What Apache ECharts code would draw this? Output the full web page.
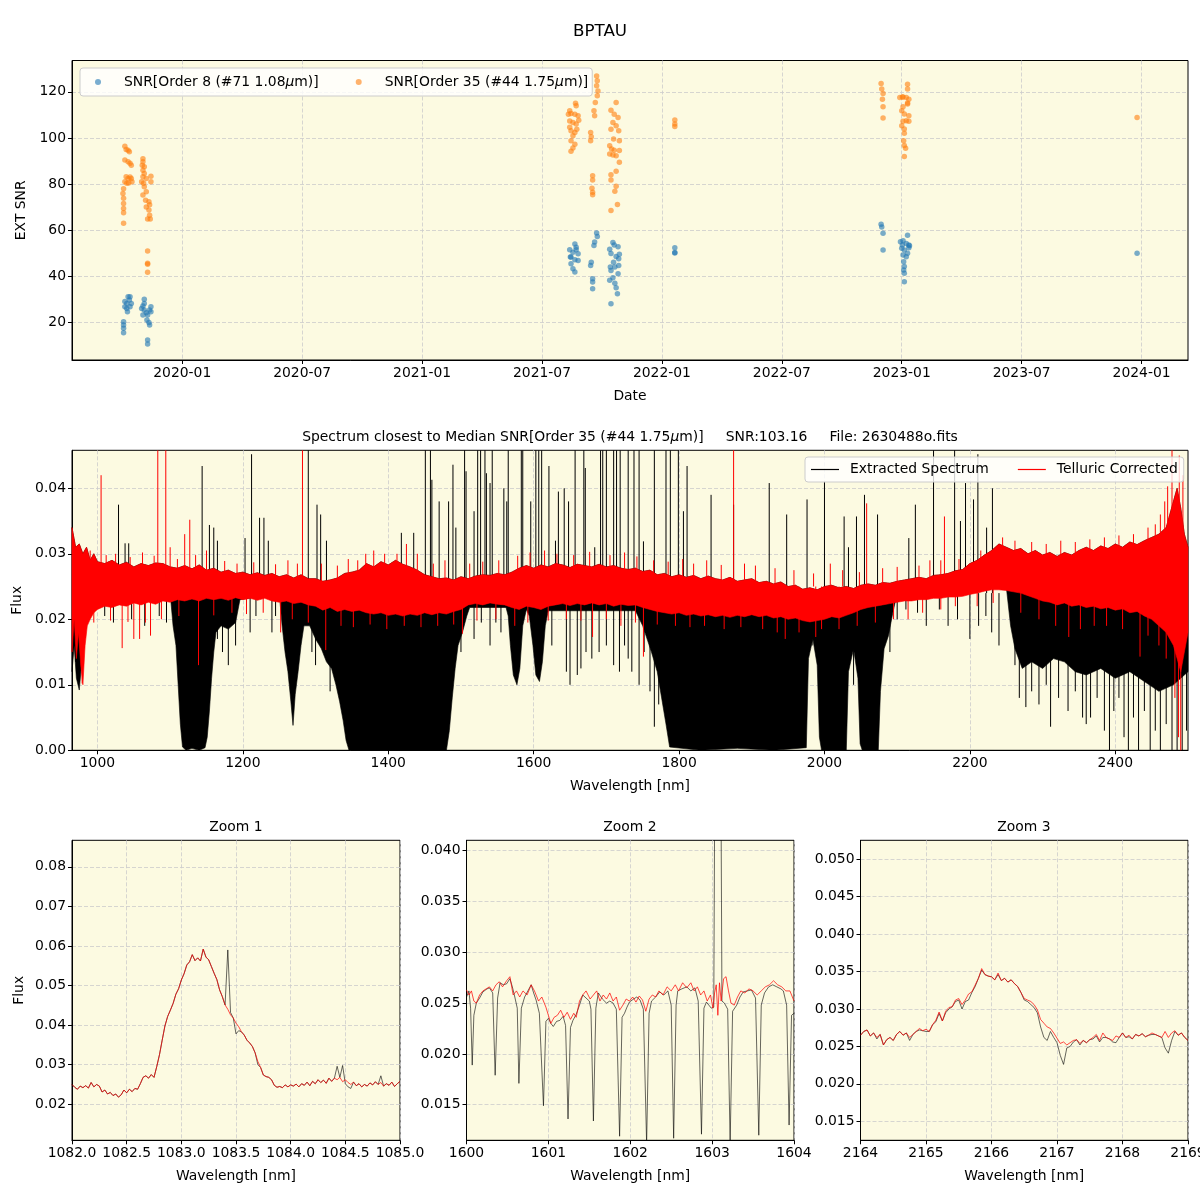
<!DOCTYPE html>
<html><head><meta charset="utf-8">
<script src="https://cdn.jsdelivr.net/npm/echarts@6/dist/echarts.min.js"></script>
<style>html,body{margin:0;padding:0;background:#fff}#c{width:1200px;height:1200px}</style>
</head><body><div id="c"></div>
<script>
// ---------------- DATA ----------------
const S8 = 'SNR[Order 8 (#71 1.08μm)]';
const S35 = 'SNR[Order 35 (#44 1.75μm)]';
const snr8 = [
 ['2019-10-03',20.3],['2019-10-03',18.8],['2019-10-03',17.4],['2019-10-03',15.5],['2019-10-05',29],['2019-10-08',28.2],['2019-10-05',26.8],['2019-10-10',31.1],['2019-10-13',31.1],['2019-10-12',29.7],['2019-10-15',28.2],['2019-10-09',24.6],['2019-10-13',26.8],['2019-10-08',26],
 ['2019-11-04',30],['2019-11-02',27.1],['2019-10-31',26],['2019-11-04',25.3],['2019-11-07',24.2],['2019-11-09',23.2],['2019-11-12',25.3],['2019-11-14',24.6],['2019-11-02',23.2],['2019-11-08',21],['2019-11-11',19.9],['2019-11-12',18.8],['2019-11-09',12.3],['2019-11-09',10.6],['2019-11-04',28.2],['2019-11-14',26.8],
 ['2021-08-21',54],['2021-08-23',52.6],['2021-08-13',51.5],['2021-08-18',50.4],['2021-08-26',49.7],['2021-08-14',48.3],['2021-08-21',47.1],['2021-08-26',46.8],['2021-08-15',45.4],['2021-08-18',43.2],['2021-08-21',41.8],['2021-08-15',48.3],['2021-08-23',51.5],
 ['2021-09-23',58.7],['2021-09-24',57.2],['2021-09-20',54.8],['2021-09-19',53.3],['2021-09-15',46.1],['2021-09-14',44.7],['2021-09-17',38.9],['2021-09-17',37.5],['2021-09-17',34.6],
 ['2021-10-18',54.6],['2021-10-20',53.6],['2021-10-26',52.8],['2021-10-13',51.7],['2021-10-15',49.9],['2021-10-23',48.6],['2021-10-27',47.6],['2021-10-19',46.1],['2021-10-14',44],['2021-10-21',44],['2021-10-15',42.5],['2021-10-26',41.1],['2021-10-18',39.3],['2021-10-13',38.2],['2021-10-21',37],['2021-10-23',35],['2021-10-25',32.4],['2021-10-15',28.1],['2021-10-27',44.7],['2021-10-28',49.5],
 ['2022-01-21',52.3],['2022-01-21',50.3],['2022-01-21',50.1],
 ['2022-11-30',62.6],['2022-12-01',61.4],['2022-12-03',58.6],['2022-12-03',51.4],
 ['2023-01-10',57.8],['2022-12-30',55],['2023-01-03',55.4],['2023-01-08',54.2],['2023-01-12',53.5],['2023-01-01',52.1],['2023-01-05',51.4],['2023-01-10',50],['2023-01-03',49.2],['2023-01-08',48.5],['2023-01-12',52.3],['2023-01-04',46.3],['2023-01-05',44.2],['2023-01-04',42.7],['2023-01-05',41.3],['2023-01-05',37.6],['2023-01-13',53.2],['2023-01-02',53.5],
 ['2023-12-25',50]
];
const snr35 = [
 ['2019-10-05',96.4],['2019-10-07',95],['2019-10-10',94.7],['2019-10-12',94],['2019-10-05',90.4],['2019-10-10',89.7],['2019-10-13',89],['2019-10-15',88.2],['2019-10-07',83.2],['2019-10-10',82.4],['2019-10-15',82.4],['2019-10-16',81],['2019-10-03',78],['2019-10-02',75.9],['2019-10-03',73.8],['2019-10-03',71.6],['2019-10-03',69.4],['2019-10-03',67.5],['2019-10-03',63],['2019-10-08',80.3],['2019-10-11',80.5],['2019-10-05',81],['2019-10-13',83],
 ['2019-11-02',91],['2019-11-02',89.7],['2019-11-01',88.2],['2019-11-04',87.5],['2019-11-02',86],['2019-11-04',84.6],['2019-11-02',83.2],['2019-11-07',82.4],['2019-11-14',83.4],['2019-11-14',81],['2019-10-31',81],['2019-11-03',80.3],['2019-11-04',78.8],['2019-11-02',75.2],['2019-11-07',76.6],['2019-11-06',73],['2019-11-11',72.3],['2019-11-12',71],['2019-11-07',70],['2019-11-11',68.7],['2019-11-12',66.5],['2019-11-09',64.8],['2019-11-13',64.8],['2019-11-09',50.9],['2019-11-09',45.6],['2019-11-09',45.2],['2019-11-09',41.7],
 ['2021-08-22',115],['2021-08-23',114],['2021-08-13',111.8],['2021-08-15',110.6],['2021-08-21',110.3],['2021-08-26',109.6],['2021-08-13',107.4],['2021-08-18',106.7],['2021-08-23',106],['2021-08-27',107.7],['2021-08-13',104.6],['2021-08-15',103.1],['2021-08-21',102.4],['2021-08-18',101],['2021-08-15',98.8],['2021-08-21',97.3],['2021-08-18',95.6],['2021-08-15',94.2],['2021-08-24',103.8],['2021-08-11',110.3],
 ['2021-09-23',126.9],['2021-09-24',124.8],['2021-09-23',122.6],['2021-09-25',120.4],['2021-09-24',118.3],['2021-09-21',115.4],['2021-09-19',111.8],['2021-09-20',109.6],['2021-09-14',102.4],['2021-09-15',100.5],['2021-09-14',98.8],['2021-09-17',83.6],['2021-09-17',81.8],['2021-09-16',78.2],['2021-09-17',76.4],['2021-09-17',75.3],
 ['2021-10-23',115.4],['2021-10-15',112],['2021-10-20',110.3],['2021-10-26',108.9],['2021-10-18',106.7],['2021-10-23',105.3],['2021-10-15',103.8],['2021-10-27',103.1],['2021-10-19',99.5],['2021-10-28',98.8],['2021-10-13',96.6],['2021-10-16',95.2],['2021-10-20',94.7],['2021-10-13',93],['2021-10-28',94.5],['2021-10-23',92.3],['2021-10-28',89.4],['2021-10-15',84],['2021-10-23',85.5],['2021-10-15',81.8],['2021-10-23',79],['2021-10-21',76.9],['2021-10-15',68.5],['2021-10-25',71.1],['2021-10-18',92.6],
 ['2022-01-21',107.8],['2022-01-21',106.1],['2022-01-21',105],
 ['2022-11-30',123.6],['2022-12-01',121.2],['2022-12-03',119.3],['2022-12-02',116.8],['2022-12-03',113.5],['2022-12-03',108.6],
 ['2023-01-10',123.3],['2023-01-10',121.2],['2022-12-29',117.6],['2023-01-03',117.8],['2023-01-08',117.6],['2023-01-12',116.8],['2023-01-10',114.7],['2023-01-03',113.5],['2023-01-01',111.8],['2023-01-05',110.4],['2023-01-12',109.6],['2023-01-08',107.5],['2023-01-03',107.2],['2023-01-12',107.2],['2023-01-01',105.3],['2023-01-05',103.9],['2023-01-05',102],['2023-01-04',98.8],['2023-01-05',96.7],['2023-01-07',95.5],['2023-01-05',91.9],['2023-01-02',117.8],['2023-01-10',115.2],
 ['2023-12-25',108.9]
];
const dateRange = ['2019-07-16', '2024-03-11'];
const dateTicks = ['2020-01-01','2020-07-01','2021-01-01','2021-07-01','2022-01-01','2022-07-01','2023-01-01','2023-07-01','2024-01-01'];
const snrTicks = [20, 40, 60, 80, 100, 120];
const specXTicks = [1000, 1200, 1400, 1600, 1800, 2000, 2200, 2400];
const specYTicks = [0, 0.01, 0.02, 0.03, 0.04];
const z1XTicks = [1082, 1082.5, 1083, 1083.5, 1084, 1084.5, 1085];
const z1YTicks = [0.02, 0.03, 0.04, 0.05, 0.06, 0.07, 0.08];
const z2XTicks = [1600, 1601, 1602, 1603, 1604];
const z2YTicks = [0.015, 0.020, 0.025, 0.030, 0.035, 0.040];
const z3XTicks = [2164, 2165, 2166, 2167, 2168, 2169];
const z3YTicks = [0.015, 0.020, 0.025, 0.030, 0.035, 0.040, 0.045, 0.050];

// Main spectrum (envelopes) [nm, flux]
const redHigh = [[965,0.034],[970,0.031],[975,0.0315],[980,0.030],[985,0.031],[990,0.029],[995,0.030],[1000,0.0288],[1010,0.0285],[1020,0.029],[1030,0.0283],[1040,0.0287],[1050,0.028],[1060,0.0285],[1070,0.0282],[1080,0.0286],[1090,0.0285],[1100,0.028],[1110,0.0278],[1120,0.0282],[1130,0.0277],[1140,0.0283],[1150,0.0275],[1160,0.0278],[1170,0.0272],[1180,0.0275],[1190,0.027],[1200,0.0272],[1210,0.0268],[1220,0.0271],[1230,0.0267],[1240,0.027],[1250,0.0265],[1260,0.0268],[1270,0.0263],[1280,0.0268],[1290,0.0262],[1300,0.0262],[1310,0.0258],[1320,0.026],[1330,0.0263],[1340,0.027],[1350,0.0272],[1360,0.0275],[1370,0.0285],[1380,0.028],[1390,0.0288],[1400,0.0283],[1410,0.029],[1420,0.0284],[1430,0.028],[1440,0.0275],[1450,0.0268],[1460,0.0265],[1470,0.0262],[1480,0.0263],[1490,0.026],[1500,0.0265],[1510,0.0262],[1520,0.0266],[1530,0.0268],[1540,0.0267],[1550,0.027],[1560,0.0268],[1570,0.0272],[1580,0.0278],[1590,0.0282],[1600,0.0278],[1610,0.0283],[1620,0.028],[1630,0.0285],[1640,0.0283],[1650,0.0279],[1660,0.0284],[1670,0.0282],[1680,0.028],[1690,0.0284],[1700,0.028],[1710,0.0282],[1720,0.0278],[1730,0.0276],[1740,0.0278],[1750,0.0273],[1760,0.0275],[1770,0.0268],[1780,0.027],[1790,0.0265],[1800,0.0268],[1810,0.0264],[1820,0.0267],[1830,0.0262],[1840,0.0266],[1850,0.0262],[1860,0.026],[1870,0.0264],[1880,0.0258],[1890,0.026],[1900,0.0262],[1910,0.0256],[1920,0.0258],[1930,0.0254],[1940,0.0257],[1950,0.025],[1960,0.0252],[1970,0.0246],[1980,0.0248],[1990,0.0245],[2000,0.025],[2010,0.0252],[2020,0.0248],[2030,0.025],[2040,0.0247],[2050,0.0252],[2060,0.0254],[2070,0.0252],[2080,0.0256],[2090,0.0255],[2100,0.0258],[2110,0.026],[2120,0.0262],[2130,0.0264],[2140,0.0262],[2150,0.0267],[2160,0.0268],[2170,0.027],[2180,0.0274],[2190,0.0276],[2200,0.0285],[2210,0.029],[2220,0.0298],[2230,0.0305],[2240,0.0315],[2250,0.031],[2260,0.0305],[2270,0.0308],[2280,0.030],[2290,0.0305],[2300,0.0298],[2310,0.0302],[2320,0.0296],[2330,0.0302],[2340,0.0298],[2350,0.0305],[2360,0.031],[2370,0.0305],[2380,0.0312],[2390,0.0308],[2400,0.0315],[2410,0.031],[2420,0.0318],[2430,0.0314],[2440,0.032],[2450,0.0325],[2460,0.033],[2470,0.034],[2475,0.036],[2480,0.038],[2485,0.040],[2490,0.037],[2495,0.033],[2500,0.031]];
const redLow = [[965,0.015],[968,0.020],[971,0.014],[974,0.018],[977,0.013],[980,0.010],[983,0.016],[986,0.019],[990,0.020],[995,0.021],[1000,0.0215],[1010,0.022],[1020,0.0218],[1030,0.0222],[1040,0.022],[1050,0.0225],[1060,0.0222],[1070,0.0226],[1080,0.0223],[1090,0.0228],[1100,0.0226],[1110,0.023],[1120,0.0228],[1130,0.0231],[1140,0.0228],[1150,0.0232],[1160,0.023],[1170,0.0232],[1180,0.0229],[1190,0.0233],[1200,0.023],[1210,0.0232],[1220,0.0229],[1230,0.0232],[1240,0.0228],[1250,0.0226],[1260,0.0228],[1270,0.0224],[1280,0.0226],[1290,0.0222],[1300,0.022],[1310,0.0214],[1320,0.0218],[1330,0.0212],[1340,0.0215],[1350,0.0212],[1360,0.0214],[1370,0.021],[1380,0.0208],[1390,0.021],[1400,0.0206],[1410,0.0208],[1420,0.0205],[1430,0.0208],[1440,0.0206],[1450,0.021],[1460,0.0207],[1470,0.021],[1480,0.0208],[1490,0.0212],[1500,0.0215],[1510,0.0222],[1520,0.0224],[1530,0.0222],[1540,0.0225],[1550,0.0223],[1560,0.0222],[1570,0.0218],[1580,0.0215],[1590,0.022],[1600,0.0218],[1610,0.0215],[1620,0.022],[1630,0.0222],[1640,0.0224],[1650,0.0221],[1660,0.0224],[1670,0.0222],[1680,0.0225],[1690,0.0222],[1700,0.0224],[1710,0.022],[1720,0.0223],[1730,0.0221],[1740,0.0222],[1750,0.0218],[1760,0.0215],[1770,0.0212],[1780,0.021],[1790,0.0208],[1800,0.021],[1810,0.0206],[1820,0.0208],[1830,0.0205],[1840,0.0207],[1850,0.0204],[1860,0.0206],[1870,0.0203],[1880,0.0206],[1890,0.0204],[1900,0.0207],[1910,0.0204],[1920,0.0206],[1930,0.0202],[1940,0.0204],[1950,0.02],[1960,0.0202],[1970,0.0198],[1980,0.0196],[1990,0.0198],[2000,0.020],[2010,0.0204],[2020,0.0202],[2030,0.0206],[2040,0.021],[2050,0.0215],[2060,0.0218],[2070,0.022],[2080,0.0222],[2090,0.0224],[2100,0.0226],[2110,0.0228],[2120,0.0228],[2130,0.023],[2140,0.023],[2150,0.0232],[2160,0.0232],[2170,0.0234],[2180,0.0234],[2190,0.0235],[2200,0.0238],[2210,0.024],[2220,0.0243],[2230,0.0245],[2240,0.0245],[2250,0.0244],[2260,0.0242],[2270,0.024],[2280,0.0236],[2290,0.0232],[2300,0.0228],[2310,0.0226],[2320,0.0222],[2330,0.0225],[2340,0.022],[2350,0.0222],[2360,0.0218],[2370,0.022],[2380,0.0216],[2390,0.0218],[2400,0.0214],[2410,0.0216],[2420,0.021],[2430,0.0212],[2440,0.0205],[2450,0.020],[2460,0.019],[2470,0.018],[2480,0.016],[2485,0.014],[2490,0.012],[2495,0.015],[2500,0.018]];
const blackLow = [[965,0.012],[968,0.016],[971,0.011],[975,0.0092],[978,0.013],[982,0.018],[986,0.020],[990,0.0225],[1000,0.024],[1100,0.024],[1104,0.019],[1108,0.016],[1111,0.010],[1114,0.004],[1117,0.0005],[1122,0.0],[1130,0.0003],[1140,0.0],[1148,0.0004],[1151,0.002],[1154,0.006],[1157,0.011],[1160,0.015],[1163,0.018],[1170,0.019],[1180,0.0185],[1190,0.0195],[1196,0.023],[1250,0.024],[1254,0.019],[1258,0.015],[1262,0.012],[1266,0.0075],[1269,0.0038],[1272,0.0085],[1276,0.012],[1280,0.016],[1284,0.019],[1292,0.019],[1300,0.017],[1308,0.0155],[1315,0.0135],[1322,0.0125],[1328,0.010],[1333,0.0075],[1338,0.0045],[1342,0.0015],[1346,0.0],[1400,0.0],[1440,0.0],[1480,0.0],[1484,0.003],[1488,0.008],[1492,0.0125],[1496,0.016],[1502,0.018],[1508,0.0205],[1512,0.0218],[1562,0.0218],[1565,0.0205],[1568,0.016],[1572,0.0115],[1577,0.010],[1581,0.0125],[1585,0.019],[1590,0.0215],[1594,0.0205],[1599,0.016],[1603,0.0115],[1608,0.0105],[1612,0.0135],[1616,0.019],[1620,0.0213],[1740,0.0213],[1750,0.019],[1762,0.015],[1770,0.012],[1776,0.008],[1782,0.004],[1787,0.0005],[1830,0.0],[1880,0.0003],[1930,0.0],[1975,0.0004],[1978,0.014],[1984,0.017],[1990,0.013],[1993,0.002],[1996,0.0],[2030,0.0],[2033,0.012],[2040,0.0155],[2046,0.011],[2049,0.001],[2052,0.0],[2074,0.0],[2077,0.009],[2082,0.0155],[2088,0.0175],[2094,0.021],[2100,0.024],[2250,0.025],[2256,0.019],[2262,0.0155],[2272,0.0125],[2285,0.0135],[2300,0.0125],[2315,0.014],[2330,0.0135],[2345,0.012],[2360,0.0115],[2380,0.0125],[2400,0.011],[2420,0.012],[2440,0.0105],[2460,0.009],[2480,0.010],[2500,0.012]];
const blackSpikes = [[1029,0.0375],[1038,0.0316],[1043,0.0316],[1144,0.0434],[1154,0.0344],[1160,0.034],[1165,0.032],[1203,0.0324],[1212,0.0452],[1223,0.0355],[1229,0.0355],[1235,0.032],[1290,0.06],[1302,0.0375],[1307,0.036],[1315,0.032],[1418,0.0332],[1435,0.0332],[1451,0.06],[1458,0.06],[1460,0.0413],[1470,0.038],[1483,0.038],[1489,0.0436],[1493,0.034],[1505,0.06],[1507,0.0426],[1518,0.0365],[1523,0.06],[1527,0.06],[1533,0.06],[1535,0.0423],[1540,0.0408],[1543,0.06],[1559,0.040],[1563,0.038],[1565,0.06],[1583,0.06],[1585,0.06],[1596,0.038],[1603,0.06],[1607,0.06],[1611,0.06],[1621,0.0434],[1630,0.032],[1634,0.0395],[1642,0.040],[1648,0.038],[1657,0.06],[1669,0.06],[1671,0.0431],[1684,0.031],[1692,0.06],[1695,0.06],[1700,0.06],[1710,0.06],[1714,0.06],[1719,0.06],[1730,0.06],[1738,0.06],[1745,0.06],[1751,0.0319],[1766,0.06],[1782,0.06],[1788,0.06],[1799,0.06],[1806,0.0365],[1811,0.0434],[1844,0.039],[1875,0.0375],[1924,0.0408],[1948,0.036],[1976,0.0383],[2000,0.041],[2027,0.0357],[2033,0.031],[2044,0.0357],[2055,0.039],[2073,0.036],[2116,0.0324],[2125,0.0375],[2150,0.06],[2179,0.06],[2187,0.035],[2194,0.0408],[2205,0.0383],[2211,0.0452],[2223,0.034],[2231,0.040],
 [970,0.0135],[1010,0.0205],[1022,0.0195],[1047,0.020],[1065,0.019],[1085,0.0205],[1095,0.0195],[1165,0.017],[1172,0.015],[1180,0.013],[1190,0.016],[1210,0.018],[1218,0.0205],[1240,0.018],[1245,0.0205],[1295,0.015],[1300,0.013],[1320,0.009],[1500,0.015],[1518,0.017],[1528,0.0195],[1540,0.016],[1548,0.0195],[1555,0.018],[1625,0.016],[1645,0.012],[1650,0.010],[1660,0.0115],[1665,0.0125],[1672,0.015],[1680,0.014],[1690,0.015],[1700,0.016],[1710,0.013],[1718,0.012],[1725,0.016],[1730,0.014],[1735,0.012],[1745,0.010],[1752,0.015],[1760,0.009],[1766,0.0036],[1772,0.007],[1778,0.012],[1983,0.016],[2040,0.010],[2090,0.015],[2100,0.020],[2112,0.0215],[2128,0.021],[2140,0.019],[2158,0.0215],[2170,0.019],[2183,0.020],[2200,0.017],[2212,0.019],[2222,0.0205],[2230,0.018],[2240,0.016],[2262,0.013],[2268,0.008],[2277,0.0066],[2285,0.009],[2295,0.007],[2305,0.010],[2311,0.0036],[2322,0.008],[2335,0.006],[2345,0.009],[2355,0.005],[2360,0.004],[2366,0.005],[2375,0.008],[2385,0.003],[2392,0.0],[2398,0.006],[2405,0.008],[2412,0.002],[2418,0.0],[2425,0.005],[2432,0.0],[2440,0.006],[2448,0.0],[2455,0.003],[2462,0.0],[2470,0.004],[2478,0.0],[2485,0.0],[2492,0.0],[2498,0.003]];
const redSpikes = [[1005,0.042],[1083,0.06],[1094,0.06],[1100,0.031],[1120,0.033],[1127,0.0352],[1282,0.06],[1369,0.030],[1412,0.030],[1875,0.06],[2058,0.0377],[2165,0.0357],[2472,0.0403],[2478,0.046],[2488,0.045],[2493,0.042],
 [979,0.0102],[1034,0.0156],[1050,0.017],[1058,0.017],[1073,0.0175],[1139,0.013],[1252,0.018],[1314,0.0153],[1502,0.0178],[1574,0.019],[1681,0.0173],[1720,0.019],[1751,0.0143],[1946,0.017],[1988,0.0173],[2115,0.020],[2336,0.0173],[2371,0.019],[2434,0.0143],[2482,0.008],[2487,0.002],[2490,0.0],
 [990,0.0305],[1012,0.0298],[1025,0.030],[1045,0.0295],[1062,0.0302],[1078,0.0297],[1110,0.0292],[1135,0.0298],[1150,0.0305],[1175,0.0289],[1192,0.0285],[1215,0.0287],[1245,0.0284],[1262,0.029],[1275,0.0285],[1308,0.0285],[1330,0.0282],[1345,0.0292],[1358,0.029],[1380,0.0305],[1395,0.030],[1425,0.0315],[1440,0.030],[1462,0.0285],[1478,0.029],[1512,0.0285],[1530,0.0288],[1552,0.029],[1578,0.0297],[1595,0.0302],[1615,0.0305],[1632,0.030],[1655,0.0298],[1677,0.0303],[1705,0.0298],[1725,0.0302],[1742,0.0296],[1765,0.029],[1785,0.0288],[1805,0.0292],[1820,0.0285],[1838,0.029],[1858,0.0283],[1890,0.0285],[1905,0.0282],[1932,0.0278],[1958,0.0275],[1985,0.027],[2008,0.0285],[2025,0.0275],[2048,0.0272],[2080,0.0278],[2100,0.028],[2130,0.0282],[2145,0.029],[2160,0.029],[2185,0.0292],[2215,0.0305],[2245,0.0325],[2262,0.032],[2285,0.0318],[2305,0.0315],[2325,0.032],[2345,0.0318],[2365,0.0322],[2385,0.0325],[2405,0.0328],[2425,0.033],[2445,0.034],[2455,0.0345],[2462,0.036],[2468,0.038],
 [995,0.0195],[1018,0.0198],[1042,0.0196],[1066,0.0195],[1088,0.020],[1112,0.0205],[1160,0.0206],[1185,0.021],[1205,0.0208],[1228,0.021],[1268,0.020],[1290,0.0195],[1335,0.019],[1352,0.0188],[1375,0.0192],[1398,0.0185],[1422,0.019],[1445,0.0188],[1468,0.019],[1490,0.0192],[1522,0.0198],[1548,0.020],[1592,0.0195],[1620,0.0198],[1645,0.020],[1665,0.0198],[1700,0.020],[1740,0.0195],[1770,0.0192],[1795,0.019],[1815,0.0188],[1835,0.019],[1862,0.0185],[1885,0.0188],[1915,0.0185],[1935,0.018],[1965,0.018],[1996,0.0185],[2020,0.0185],[2045,0.019],[2070,0.0195],[2095,0.020],[2135,0.021],[2160,0.0215],[2180,0.022],[2210,0.022],[2232,0.0225],[2270,0.021],[2295,0.020],[2318,0.019],[2352,0.0185],[2388,0.019],[2410,0.0185],[2445,0.0175],[2460,0.016],[2470,0.014]];

// Zoom 1: 1082.000 .. 1085.000, sampled every 0.025 nm
const z1Start = 1082, z1Step = 0.025;
const z1Red = [0.0250,0.0243,0.0238,0.0246,0.0242,0.0247,0.0241,0.0255,0.0244,0.0250,0.0246,0.0231,0.0236,0.0226,0.0230,0.0222,0.0226,0.0218,0.0224,0.0236,0.0229,0.0238,0.0232,0.0240,0.0238,0.0252,0.0268,0.0272,0.0266,0.0275,0.0268,0.0295,0.0325,0.0362,0.0398,0.0422,0.0438,0.0455,0.0478,0.0492,
 0.0514,0.0530,0.0552,0.0560,0.0578,0.0563,0.0570,0.0562,0.0592,0.0572,0.0565,0.0548,0.0531,0.0515,0.0489,0.0472,0.0451,0.0440,0.0426,0.0418,0.0405,0.0396,0.0383,0.0375,0.0362,0.0355,0.0346,0.0330,0.0308,0.0293,0.0274,0.0270,0.0268,0.0262,0.0248,0.0243,0.0245,0.0242,0.0249,0.0244,
 0.0249,0.0246,0.0251,0.0244,0.0252,0.0248,0.0256,0.0247,0.0258,0.0252,0.0262,0.0255,0.0261,0.0253,0.0266,0.0258,0.0266,0.0262,0.0268,0.0257,0.0262,0.0255,0.0250,0.0256,0.0247,0.0252,0.0244,0.0250,0.0246,0.0254,0.0249,0.0257,0.0250,0.0255,0.0246,0.0252,0.0248,0.0256,0.0245,0.0252,0.0258];
const z1Black = [0.0250,0.0243,0.0238,0.0246,0.0242,0.0247,0.0241,0.0255,0.0244,0.0250,0.0246,0.0231,0.0236,0.0226,0.0230,0.0222,0.0226,0.0218,0.0224,0.0236,0.0229,0.0238,0.0232,0.0240,0.0238,0.0252,0.0268,0.0272,0.0266,0.0275,0.0268,0.0295,0.0325,0.0362,0.0398,0.0422,0.0438,0.0455,0.0478,0.0492,
 0.0514,0.0530,0.0552,0.0560,0.0578,0.0563,0.0570,0.0562,0.0592,0.0572,0.0565,0.0548,0.0531,0.0515,0.0489,0.0472,0.0451,0.0590,0.0432,0.0418,0.0378,0.0386,0.0383,0.0375,0.0362,0.0355,0.0346,0.0330,0.0300,0.0293,0.0274,0.0270,0.0268,0.0262,0.0248,0.0243,0.0245,0.0242,0.0249,0.0244,
 0.0249,0.0246,0.0251,0.0244,0.0252,0.0248,0.0256,0.0247,0.0258,0.0252,0.0262,0.0255,0.0261,0.0253,0.0266,0.0258,0.0266,0.0296,0.0268,0.0298,0.0252,0.0244,0.0240,0.0256,0.0247,0.0252,0.0244,0.0250,0.0246,0.0254,0.0249,0.0257,0.0250,0.0272,0.0246,0.0252,0.0248,0.0256,0.0245,0.0252,0.0258];

// Zoom 2: [nm, flux]
const z2Black = [[1600.00,0.0256],[1600.03,0.0262],[1600.05,0.0245],[1600.07,0.0189],[1600.09,0.0238],[1600.12,0.025],[1600.16,0.0255],[1600.20,0.0261],[1600.25,0.0264],[1600.28,0.0265],[1600.32,0.026],[1600.35,0.0179],[1600.38,0.0255],[1600.41,0.027],[1600.45,0.0268],[1600.49,0.0269],[1600.53,0.0274],[1600.56,0.0266],[1600.59,0.0256],[1600.62,0.0245],[1600.64,0.0171],[1600.67,0.0245],[1600.71,0.0256],[1600.75,0.0262],[1600.79,0.0268],[1600.82,0.026],[1600.85,0.0253],[1600.89,0.024],[1600.94,0.0149],[1600.97,0.0232],[1601.00,0.0235],[1601.03,0.023],[1601.06,0.0227],[1601.10,0.0232],[1601.14,0.0233],[1601.18,0.0237],[1601.21,0.0228],[1601.24,0.0136],[1601.27,0.0226],[1601.30,0.0233],[1601.34,0.0239],[1601.38,0.0248],[1601.42,0.0258],[1601.46,0.0255],[1601.50,0.0252],[1601.52,0.0244],[1601.55,0.0134],[1601.58,0.0245],[1601.61,0.026],[1601.66,0.0254],[1601.71,0.025],[1601.75,0.0252],[1601.79,0.025],[1601.83,0.0244],[1601.87,0.0119],[1601.90,0.0236],[1601.93,0.024],[1601.96,0.0246],[1601.99,0.0251],[1602.04,0.0254],[1602.08,0.0256],[1602.12,0.0253],[1602.16,0.0244],[1602.20,0.0112],[1602.23,0.024],[1602.26,0.0252],[1602.31,0.0256],[1602.36,0.0261],[1602.41,0.0258],[1602.46,0.0262],[1602.50,0.0248],[1602.53,0.0117],[1602.56,0.0248],[1602.58,0.0262],[1602.63,0.0264],[1602.69,0.0266],[1602.74,0.0262],[1602.79,0.0265],[1602.83,0.0252],[1602.87,0.0121],[1602.90,0.0245],[1602.93,0.0251],[1602.96,0.0248],[1602.99,0.0245],[1603.02,0.0246],[1603.04,0.060],[1603.10,0.060],[1603.12,0.0252],[1603.15,0.025],[1603.19,0.0244],[1603.22,0.0112],[1603.25,0.0242],[1603.30,0.0248],[1603.34,0.0256],[1603.38,0.0261],[1603.43,0.0262],[1603.48,0.0263],[1603.53,0.0255],[1603.57,0.012],[1603.60,0.0248],[1603.64,0.026],[1603.69,0.0266],[1603.74,0.0268],[1603.79,0.0266],[1603.84,0.0264],[1603.87,0.0262],[1603.91,0.0248],[1603.94,0.013],[1603.97,0.0238],[1604.00,0.024]];
const z2Red = [[1600.00,0.0263],[1600.03,0.0258],[1600.06,0.0262],[1600.09,0.0252],[1600.12,0.025],[1600.16,0.0258],[1600.20,0.0262],[1600.24,0.0264],[1600.28,0.0266],[1600.32,0.0262],[1600.36,0.0268],[1600.40,0.0271],[1600.44,0.0266],[1600.49,0.0272],[1600.53,0.0276],[1600.57,0.0258],[1600.61,0.0262],[1600.65,0.0256],[1600.69,0.0262],[1600.74,0.0258],[1600.79,0.0268],[1600.83,0.0262],[1600.88,0.0252],[1600.92,0.0256],[1600.97,0.0246],[1601.00,0.0238],[1601.03,0.023],[1601.07,0.0236],[1601.11,0.0238],[1601.15,0.0243],[1601.19,0.0236],[1601.23,0.0241],[1601.27,0.0234],[1601.31,0.024],[1601.34,0.0236],[1601.38,0.0252],[1601.42,0.0258],[1601.46,0.0262],[1601.51,0.0254],[1601.55,0.0258],[1601.59,0.0262],[1601.63,0.0252],[1601.67,0.0258],[1601.71,0.0254],[1601.75,0.026],[1601.79,0.0252],[1601.83,0.0256],[1601.87,0.0243],[1601.91,0.0248],[1601.95,0.0254],[1601.99,0.0252],[1602.03,0.0256],[1602.07,0.0251],[1602.11,0.0257],[1602.15,0.0253],[1602.19,0.0242],[1602.23,0.0254],[1602.27,0.0258],[1602.31,0.0256],[1602.35,0.0262],[1602.40,0.0258],[1602.45,0.0266],[1602.50,0.0262],[1602.55,0.0268],[1602.59,0.0262],[1602.64,0.027],[1602.69,0.0265],[1602.74,0.027],[1602.78,0.0262],[1602.82,0.0266],[1602.86,0.0258],[1602.90,0.0262],[1602.94,0.0252],[1602.98,0.0258],[1603.01,0.0245],[1603.03,0.026],[1603.05,0.0268],[1603.07,0.0238],[1603.09,0.027],[1603.11,0.0252],[1603.14,0.0274],[1603.17,0.0276],[1603.20,0.0262],[1603.23,0.025],[1603.27,0.0248],[1603.31,0.0256],[1603.35,0.0262],[1603.40,0.026],[1603.45,0.0264],[1603.50,0.0262],[1603.55,0.0258],[1603.60,0.0262],[1603.65,0.0266],[1603.70,0.0268],[1603.75,0.0272],[1603.80,0.0268],[1603.85,0.0266],[1603.90,0.0262],[1603.95,0.0262],[1604.00,0.0252]];

// Zoom 3: 2164.00 .. 2169.00, sampled every 0.05 nm
const z3Start = 2164, z3Step = 0.05;
const z3Red = [0.0265,0.0270,0.0272,0.0264,0.0268,0.0262,0.0266,0.0252,0.0259,0.0262,0.0258,0.0266,0.0270,0.0265,0.0268,0.0262,0.0266,0.0270,0.0274,0.0271,
 0.0273,0.0270,0.0279,0.0285,0.0296,0.0284,0.0297,0.0302,0.0303,0.0312,0.0314,0.0306,0.0312,0.0320,0.0323,0.0332,0.0341,0.0354,0.0346,0.0344,
 0.0343,0.0339,0.0348,0.0338,0.0341,0.0336,0.0339,0.0334,0.0330,0.0322,0.0314,0.0312,0.0310,0.0306,0.0299,0.0286,0.0281,0.0276,0.0274,0.0268,
 0.0261,0.0254,0.0256,0.0252,0.0255,0.0258,0.0259,0.0254,0.0258,0.0255,0.0259,0.0262,0.0266,0.0258,0.0268,0.0262,0.0260,0.0258,0.0264,0.0262,
 0.0268,0.0262,0.0265,0.0260,0.0266,0.0264,0.0267,0.0263,0.0265,0.0268,0.0266,0.0264,0.0262,0.0270,0.0262,0.0268,0.0271,0.0265,0.0268,0.0262,0.0258];
const z3Black = [0.0265,0.0270,0.0272,0.0264,0.0268,0.0260,0.0266,0.0252,0.0259,0.0262,0.0258,0.0266,0.0270,0.0265,0.0268,0.0258,0.0266,0.0270,0.0272,0.0271,
 0.0270,0.0270,0.0279,0.0283,0.0294,0.0284,0.0295,0.0300,0.0303,0.0310,0.0312,0.0300,0.0310,0.0312,0.0322,0.0330,0.0341,0.0352,0.0346,0.0344,
 0.0343,0.0339,0.0346,0.0338,0.0341,0.0336,0.0339,0.0334,0.0330,0.0322,0.0312,0.0310,0.0306,0.0302,0.0295,0.0276,0.0262,0.0258,0.0270,0.0262,
 0.0255,0.0238,0.0226,0.0248,0.0250,0.0256,0.0259,0.0252,0.0258,0.0255,0.0259,0.0260,0.0264,0.0256,0.0262,0.0262,0.0260,0.0256,0.0255,0.0262,
 0.0268,0.0262,0.0263,0.0260,0.0266,0.0264,0.0267,0.0263,0.0265,0.0266,0.0266,0.0264,0.0262,0.0248,0.0241,0.0258,0.0270,0.0265,0.0268,0.0262,0.0258];

// ---------------- HELPERS ----------------
const FF = 'DejaVu Sans';
const FS = 13.9;
const BG = '#fcfae1';
function toM(s) {
  const p = s.split('-').map(Number);
  const dim = new Date(p[0], p[1], 0).getDate();
  return (p[0] - 2019) * 12 + (p[1] - 1) + (p[2] - 1) / dim;
}
function gridWl(start, step, n) { const a = []; for (let i = 0; i < n; i++) a.push(+(start + i * step).toFixed(4)); return a; }
function pair(wl, ys) { return wl.map((w, i) => [w, ys[i]]); }
function fixed(dec) { return v => Number(v).toFixed(dec); }
function dateFmt(v) {
  const r = Math.round(v);
  return (2019 + Math.floor(r / 12)) + '-' + String(r % 12 + 1).padStart(2, '0');
}
function axis(gi, min, max, ticks, fmt, extra) {
  return Object.assign({
    gridIndex: gi, type: 'value', min: min, max: max,
    axisLine: { show: true, onZero: false, lineStyle: { color: '#000', width: 1 } },
    axisTick: { show: true, length: 4, customValues: ticks, lineStyle: { color: '#000', width: 1 } },
    axisLabel: { show: true, customValues: ticks, color: '#000', fontSize: FS, fontFamily: FF, margin: 6, formatter: fmt },
    splitLine: { show: true, lineStyle: { color: '#cccccc', width: 0.8, type: [4, 2] } },
    nameTextStyle: { color: '#000', fontSize: FS, fontFamily: FF }
  }, extra || {});
}
const SPEC_TOP = 0.0458;
function clampY(v) { return Math.max(0, Math.min(SPEC_TOP, v)); }
function bandRenderer(upper, lower, color, spikes, base) {
  return function (params, api) {
    const pts = [];
    upper.forEach(p => pts.push(api.coord([p[0], clampY(p[1])])));
    for (let i = lower.length - 1; i >= 0; i--) pts.push(api.coord([lower[i][0], clampY(lower[i][1])]));
    const children = [{ type: 'polygon', shape: { points: pts }, style: { fill: color, stroke: color, lineWidth: 0.6 } }];
    spikes.forEach(s => {
      const a = api.coord([s[0], base]), b = api.coord([s[0], clampY(s[1])]);
      children.push({ type: 'line', shape: { x1: a[0], y1: a[1], x2: b[0], y2: b[1] }, style: { stroke: color, lineWidth: 1 } });
    });
    return { type: 'group', children: children };
  };
}
const gridBase = { show: true, backgroundColor: BG, borderColor: '#000', borderWidth: 1, containLabel: false, outerBoundsMode: 'none' };
const richMu = { i: { fontStyle: 'italic', fontFamily: FF, fontSize: FS, color: '#000' } };
function muFmt(name) { return name.replace('μ', '{i|μ}'); }

const z1wl = gridWl(z1Start, z1Step, z1Red.length);
const z3wl = gridWl(z3Start, z3Step, z3Red.length);
const wlName = { name: 'Wavelength [nm]', nameLocation: 'middle', nameGap: 29 };

// ---------------- CHART ----------------
const chart = echarts.init(document.getElementById('c'), null, { renderer: 'canvas' });
const option = {
  animation: false,
  backgroundColor: '#fff',
  textStyle: { fontFamily: FF },
  grid: [
    Object.assign({ left: 72, top: 60.5, width: 1116, height: 299.5 }, gridBase),
    Object.assign({ left: 72, top: 450.3, width: 1116, height: 300 }, gridBase),
    Object.assign({ left: 72, top: 840.3, width: 328, height: 300 }, gridBase),
    Object.assign({ left: 466.5, top: 840.3, width: 327.5, height: 300 }, gridBase),
    Object.assign({ left: 860.5, top: 840.3, width: 327.5, height: 300 }, gridBase)
  ],
  xAxis: [
    axis(0, toM(dateRange[0]), toM(dateRange[1]), dateTicks.map(toM), dateFmt, { name: 'Date', nameLocation: 'middle', nameGap: 29 }),
    axis(1, 965, 2500, specXTicks, fixed(0), wlName),
    axis(2, 1082, 1085, z1XTicks, fixed(1), wlName),
    axis(3, 1600, 1604, z2XTicks, fixed(0), wlName),
    axis(4, 2164, 2169, z3XTicks, fixed(0), wlName)
  ],
  yAxis: [
    axis(0, 3.65, 133.6, snrTicks, fixed(0), { name: 'EXT SNR', nameLocation: 'middle', nameGap: 42 }),
    axis(1, 0, SPEC_TOP, specYTicks, fixed(2), { name: 'Flux', nameLocation: 'middle', nameGap: 46 }),
    axis(2, 0.0109, 0.0867, z1YTicks, fixed(2), { name: 'Flux', nameLocation: 'middle', nameGap: 46 }),
    axis(3, 0.0115, 0.04102, z2YTicks, fixed(3), {}),
    axis(4, 0.01246, 0.05254, z3YTicks, fixed(3), {})
  ],
  legend: [
    {
      left: 80, top: 68, orient: 'horizontal', padding: [7, 4, 7, 15], itemGap: 37,
      itemWidth: 6, itemHeight: 6, icon: 'circle',
      backgroundColor: 'rgba(255,255,255,0.8)', borderColor: '#cccccc', borderWidth: 1, borderRadius: 3,
      textStyle: { color: '#000', fontSize: FS, fontFamily: FF, padding: [0, 0, 0, 18], rich: richMu },
      formatter: muFmt,
      data: [{ name: S8, icon: 'circle' }, { name: S35, icon: 'circle' }],
      selectedMode: false
    },
    {
      left: 805, top: 457, orient: 'horizontal', padding: [5.5, 6, 5.5, 6], itemGap: 29,
      itemWidth: 28, itemHeight: 1.2,
      backgroundColor: 'rgba(255,255,255,0.8)', borderColor: '#cccccc', borderWidth: 1, borderRadius: 3,
      textStyle: { color: '#000', fontSize: FS, fontFamily: FF, padding: [0, 0, 0, 6] },
      data: [
        { name: 'Extracted Spectrum', icon: 'rect', itemStyle: { color: '#000' } },
        { name: 'Telluric Corrected', icon: 'rect', itemStyle: { color: '#ff0000' } }
      ],
      selectedMode: false
    }
  ],
  graphic: [
    { type: 'text', x: 600, y: 32, style: { text: 'BPTAU', fontSize: 16.7, fontFamily: FF, fill: '#000', align: 'center', verticalAlign: 'middle', textAlign: 'center', textVerticalAlign: 'middle' } },
    { type: 'text', x: 630, y: 437, style: { text: 'Spectrum closest to Median SNR[Order 35 (#44 1.75{i|μ}m)]     SNR:103.16     File: 2630488o.fits', fontSize: FS, fontFamily: FF, fill: '#000', rich: richMu, align: 'center', verticalAlign: 'middle', textAlign: 'center', textVerticalAlign: 'middle' } },
    { type: 'text', x: 236, y: 827, style: { text: 'Zoom 1', fontSize: FS, fontFamily: FF, fill: '#000', align: 'center', verticalAlign: 'middle', textAlign: 'center', textVerticalAlign: 'middle' } },
    { type: 'text', x: 630, y: 827, style: { text: 'Zoom 2', fontSize: FS, fontFamily: FF, fill: '#000', align: 'center', verticalAlign: 'middle', textAlign: 'center', textVerticalAlign: 'middle' } },
    { type: 'text', x: 1024, y: 827, style: { text: 'Zoom 3', fontSize: FS, fontFamily: FF, fill: '#000', align: 'center', verticalAlign: 'middle', textAlign: 'center', textVerticalAlign: 'middle' } }
  ],
  series: [
    { name: S8, type: 'scatter', xAxisIndex: 0, yAxisIndex: 0, symbolSize: 5.5, silent: true,
      itemStyle: { color: '#1f77b4', opacity: 0.6 }, data: snr8.map(d => [toM(d[0]), d[1]]) },
    { name: S35, type: 'scatter', xAxisIndex: 0, yAxisIndex: 0, symbolSize: 5.5, silent: true,
      itemStyle: { color: '#ff7f0e', opacity: 0.6 }, data: snr35.map(d => [toM(d[0]), d[1]]) },
    { name: 'Extracted Spectrum', type: 'custom', xAxisIndex: 1, yAxisIndex: 1, silent: true,
      itemStyle: { color: '#000' }, data: [[965, 0]],
      renderItem: bandRenderer(redHigh, blackLow, '#000', blackSpikes, 0.024) },
    { name: 'Telluric Corrected', type: 'custom', xAxisIndex: 1, yAxisIndex: 1, silent: true,
      itemStyle: { color: '#ff0000' }, data: [[965, 0]],
      renderItem: bandRenderer(redHigh, redLow, '#ff0000', redSpikes, 0.025) },
    { name: 'z1b', type: 'line', xAxisIndex: 2, yAxisIndex: 2, showSymbol: false, silent: true,
      lineStyle: { color: '#000', width: 0.8, opacity: 0.75 }, data: pair(z1wl, z1Black) },
    { name: 'z1r', type: 'line', xAxisIndex: 2, yAxisIndex: 2, showSymbol: false, silent: true,
      lineStyle: { color: '#ff0000', width: 0.8, opacity: 0.9 }, data: pair(z1wl, z1Red) },
    { name: 'z2b', type: 'line', xAxisIndex: 3, yAxisIndex: 3, showSymbol: false, silent: true,
      lineStyle: { color: '#000', width: 0.8, opacity: 0.75 }, data: z2Black },
    { name: 'z2r', type: 'line', xAxisIndex: 3, yAxisIndex: 3, showSymbol: false, silent: true,
      lineStyle: { color: '#ff0000', width: 0.8, opacity: 0.9 }, data: z2Red },
    { name: 'z3b', type: 'line', xAxisIndex: 4, yAxisIndex: 4, showSymbol: false, silent: true,
      lineStyle: { color: '#000', width: 0.8, opacity: 0.75 }, data: pair(z3wl, z3Black) },
    { name: 'z3r', type: 'line', xAxisIndex: 4, yAxisIndex: 4, showSymbol: false, silent: true,
      lineStyle: { color: '#ff0000', width: 0.8, opacity: 0.9 }, data: pair(z3wl, z3Red) }
  ]
};
chart.setOption(option);
</script></body></html>
